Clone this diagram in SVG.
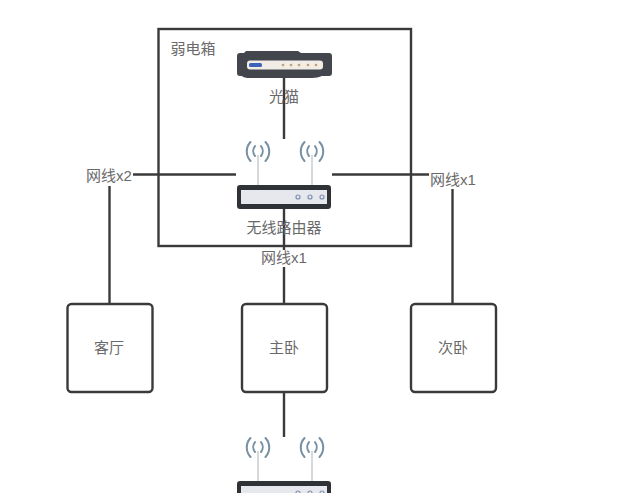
<svg xmlns="http://www.w3.org/2000/svg" width="640" height="493" viewBox="0 0 640 493">
<defs>
<style>
text{font-family:"Liberation Sans","Noto Sans CJK SC",sans-serif;font-size:15px;fill:#6a6a6a;text-anchor:middle}
.box{fill:#fff;stroke:#3a3a3a;stroke-width:2.400}
.c{fill:none;stroke:#3a3a3a;stroke-width:2.400}
.wave{fill:none;stroke:#7890a4;stroke-width:2;stroke-linecap:round}
.ant{stroke:#c8cccc;stroke-width:1.500}
</style>
<g id="antenna">
<path class="ant" d="M0 0V-30"/>
<path class="wave" d="M-3-39a8 8 0 0 0 0 10M3-39a8 8 0 0 1 0 10M-7.500-43a14 14 0 0 0 0 19M7.500-43a14 14 0 0 1 0 19"/>
</g>
<g id="router">
<use href="#antenna" x="-26" y="0"/>
<use href="#antenna" x="28" y="0"/>
<rect x="-47" y="0" width="94" height="24" rx="3" fill="#2f3236"/>
<rect x="-43" y="5" width="86" height="14" fill="#e6e8ee"/>
<circle cx="14" cy="12" r="2" fill="none" stroke="#7f8fb0" stroke-width="1.200"/>
<circle cx="26" cy="12" r="2" fill="none" stroke="#7f8fb0" stroke-width="1.200"/>
<circle cx="38" cy="12" r="2" fill="none" stroke="#7f8fb0" stroke-width="1.200"/>
</g>
</defs>
<rect width="640" height="493" fill="#fff"/>
<g id="cabinet">
<rect x="158.500" y="29" width="252.500" height="217" fill="none" stroke="#3a3a3a" stroke-width="2.400"/>
<text x="193" y="54">弱电箱</text>
</g>
<g id="connectors">
<path class="c" d="M284 74V139"/>
<path class="c" d="M133 174.500H236"/>
<path class="c" d="M109.500 186V304"/>
<path class="c" d="M332 174.500H429"/>
<path class="c" d="M452.500 189V304"/>
<path class="c" d="M284 208V250"/>
<path class="c" d="M284 267V304"/>
<path class="c" d="M284 392V437"/>
</g>
<g id="modem">
<path d="M246 51H298L301 53H329Q332 53 332 56V73Q332 76 329 76H322Q318 78 312 78H250Q244 78 242 76H240Q237 76 237 73V56Q237 53 240 53H244Z" fill="#43464c"/>
<rect x="247" y="60.500" width="76" height="9" rx="3" fill="#f1ece6"/>
<rect x="249" y="63" width="13" height="4" rx="1.500" fill="#3c63b8"/>
<g fill="#c79a78"><circle cx="283" cy="65" r="1.300"/><circle cx="291" cy="65" r="1.300"/><circle cx="299" cy="65" r="1.300"/><circle cx="308" cy="65" r="1.300"/><circle cx="316" cy="65" r="1.300"/></g>
<text x="284" y="102">光猫</text>
</g>
<g id="router-main">
<use href="#router" x="284" y="185"/>
<text x="284" y="233">无线路由器</text>
</g>
<g id="router-bedroom">
<use href="#router" x="284" y="481"/>
</g>
<g id="label-x2"><text x="109" y="181">网线x2</text></g>
<g id="label-x1-right"><text x="453" y="185">网线x1</text></g>
<g id="label-x1-center"><text x="284" y="263">网线x1</text></g>
<g id="room-living">
<rect class="box" x="67.500" y="304" width="85" height="88" rx="4"/>
<text x="109" y="353">客厅</text>
</g>
<g id="room-master">
<rect class="box" x="242" y="304" width="85" height="88" rx="4"/>
<text x="284" y="353">主卧</text>
</g>
<g id="room-second">
<rect class="box" x="411" y="304" width="85" height="88" rx="4"/>
<text x="453" y="353">次卧</text>
</g>
</svg>
